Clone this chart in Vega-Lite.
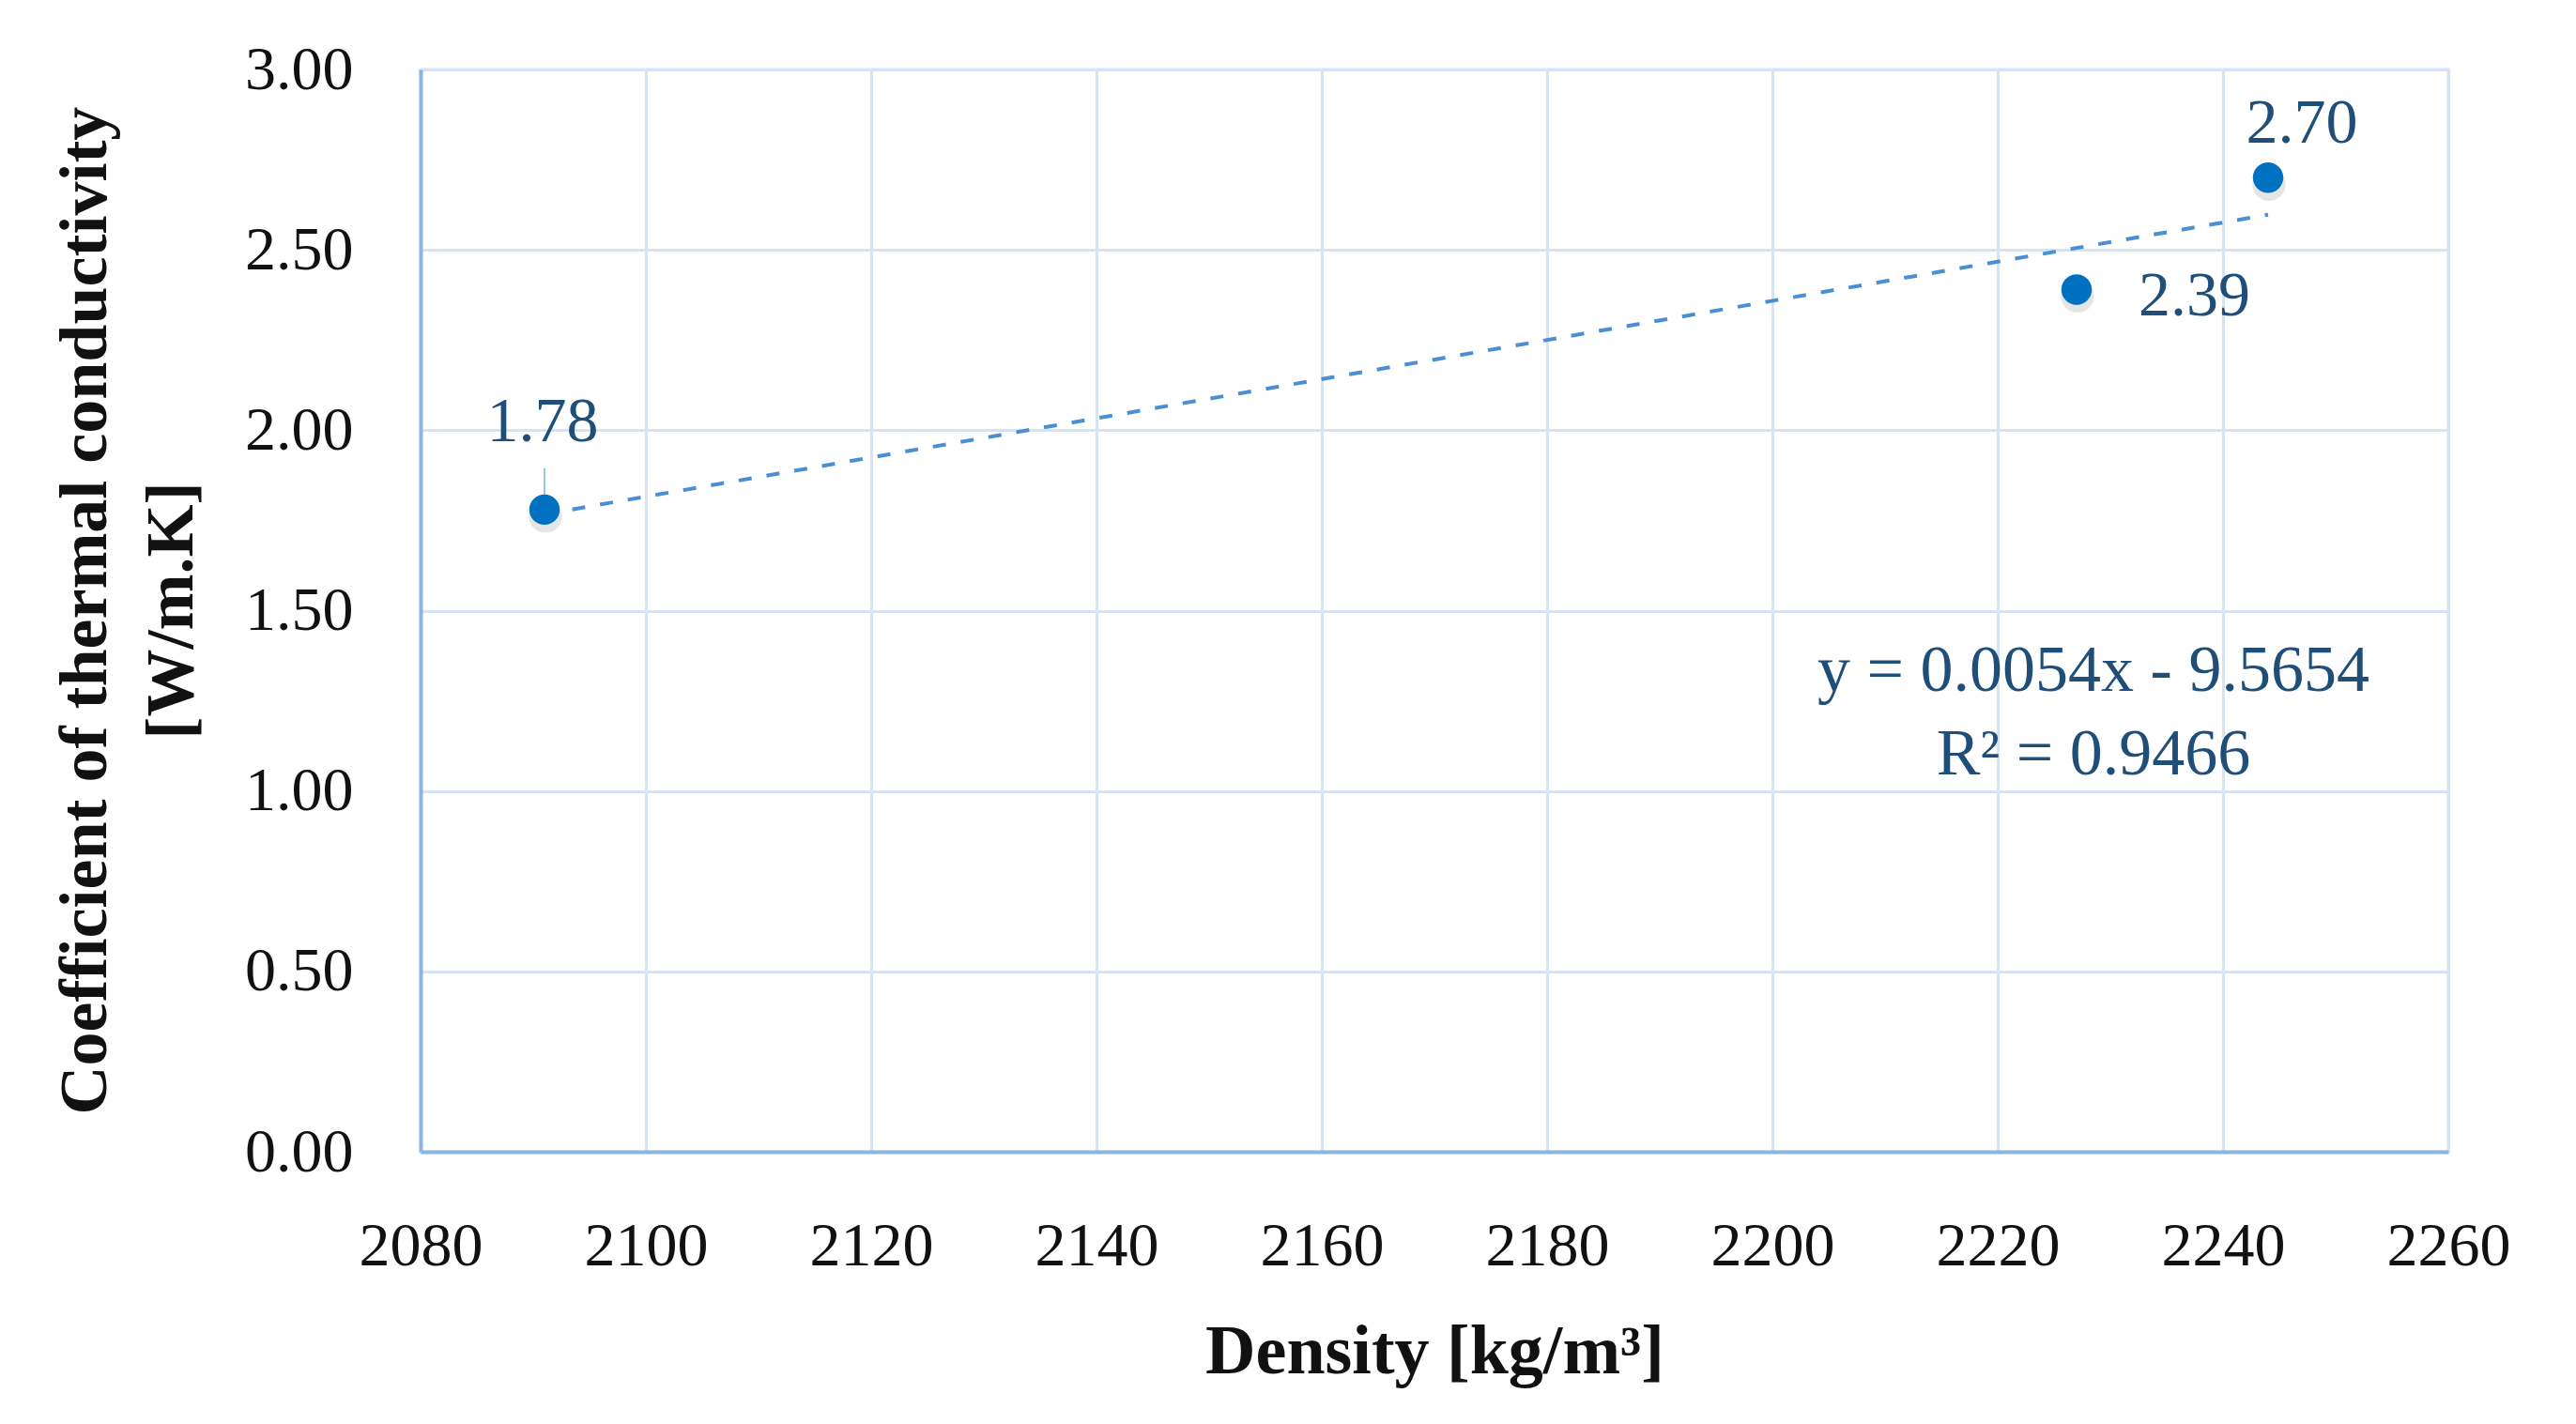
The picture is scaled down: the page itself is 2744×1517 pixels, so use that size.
{
  "$schema": "https://vega.github.io/schema/vega-lite/v6.json",
  "width": 2160,
  "height": 1153,
  "autosize": {"type": "none"},
  "padding": {"left": 448, "top": 74, "right": 136, "bottom": 290},
  "background": "white",
  "config": {
    "font": "Liberation Serif",
    "view": {"stroke": "#D2E4F6", "strokeWidth": 3}
  },
  "layer": [
    {
      "data": {"values": [
        {"density": 2091, "k": 1.78},
        {"density": 2227, "k": 2.39},
        {"density": 2244, "k": 2.70}
      ]},
      "encoding": {
        "x": {
          "field": "density",
          "type": "quantitative",
          "scale": {"domain": [2080, 2260], "nice": false, "zero": false},
          "axis": {
            "values": [2080, 2100, 2120, 2140, 2160, 2180, 2200, 2220, 2240, 2260],
            "format": "d",
            "title": "Density [kg/m³]",
            "grid": true,
            "gridColor": "#D2E4F6",
            "gridWidth": 3,
            "domainColor": "#8AB6E6",
            "domainWidth": 4,
            "ticks": false,
            "tickSize": 0,
            "labelFontSize": 66,
            "labelColor": "#111111",
            "labelPadding": 120,
            "labelBaseline": "alphabetic",
            "labelFlush": false,
            "titleFontSize": 74,
            "titleFontWeight": "bold",
            "titleColor": "#111111",
            "titleY": 235,
            "titleBaseline": "alphabetic"
          }
        },
        "y": {
          "field": "k",
          "type": "quantitative",
          "scale": {"domain": [0, 3], "nice": false},
          "axis": {
            "values": [0, 0.5, 1, 1.5, 2, 2.5, 3],
            "format": ".2f",
            "title": ["Coefficient of thermal conductivity", "[W/m.K]"],
            "grid": true,
            "gridColor": "#D2E4F6",
            "gridWidth": 3,
            "domainColor": "#8AB6E6",
            "domainWidth": 4,
            "ticks": false,
            "tickSize": 0,
            "labelFontSize": 66,
            "labelColor": "#111111",
            "labelPadding": 72,
            "labelFlush": false,
            "titleFontSize": 72,
            "titleFontWeight": "bold",
            "titleColor": "#111111",
            "titleAngle": -90,
            "titleX": -358,
            "titleY": 576,
            "titleAlign": "center",
            "titleBaseline": "middle",
            "titleLineHeight": 92
          }
        }
      },
      "layer": [
        {
          "transform": [{"regression": "k", "on": "density", "method": "linear"}],
          "mark": {"type": "line", "color": "#4A8FD4", "strokeWidth": 4, "strokeDash": [14, 16]},
          "encoding": {}
        },
        {
          "transform": [{"filter": "datum.density == 2091"}],
          "mark": {"type": "rule", "color": "#9DC3E6", "strokeWidth": 2},
          "encoding": {"y": {"datum": 1.895}, "y2": {"field": "k"}}
        },
        {
          "mark": {"type": "point", "filled": true, "color": "#000000", "opacity": 0.1, "size": 1250, "xOffset": 1, "yOffset": 7},
          "encoding": {}
        },
        {
          "mark": {"type": "point", "filled": true, "color": "#0070C0", "opacity": 1, "size": 1050},
          "encoding": {}
        },
        {
          "transform": [{"filter": "datum.density == 2091"}],
          "mark": {"type": "text", "fontSize": 68, "color": "#1F4E79", "align": "center", "baseline": "middle", "dx": -2, "dy": -93},
          "encoding": {"text": {"field": "k", "format": ".2f"}}
        },
        {
          "transform": [{"filter": "datum.density == 2227"}],
          "mark": {"type": "text", "fontSize": 68, "color": "#1F4E79", "align": "left", "baseline": "middle", "dx": 66, "dy": 8},
          "encoding": {"text": {"field": "k", "format": ".2f"}}
        },
        {
          "transform": [{"filter": "datum.density == 2244"}],
          "mark": {"type": "text", "fontSize": 68, "color": "#1F4E79", "align": "center", "baseline": "middle", "dx": 36, "dy": -57},
          "encoding": {"text": {"field": "k", "format": ".2f"}}
        }
      ]
    },
    {
      "data": {"values": [{"line1": "y = 0.0054x - 9.5654", "line2": "R² = 0.9466"}]},
      "mark": {"type": "text", "fontSize": 70, "color": "#1F4E79", "align": "center", "baseline": "middle"},
      "encoding": {
        "x": {"datum": 2228.5, "type": "quantitative"},
        "y": {"datum": 1.332, "type": "quantitative"},
        "text": {"field": "line1"}
      }
    },
    {
      "data": {"values": [{"line1": "y = 0.0054x - 9.5654", "line2": "R² = 0.9466"}]},
      "mark": {"type": "text", "fontSize": 70, "color": "#1F4E79", "align": "center", "baseline": "middle"},
      "encoding": {
        "x": {"datum": 2228.5, "type": "quantitative"},
        "y": {"datum": 1.10, "type": "quantitative"},
        "text": {"field": "line2"}
      }
    }
  ]
}
